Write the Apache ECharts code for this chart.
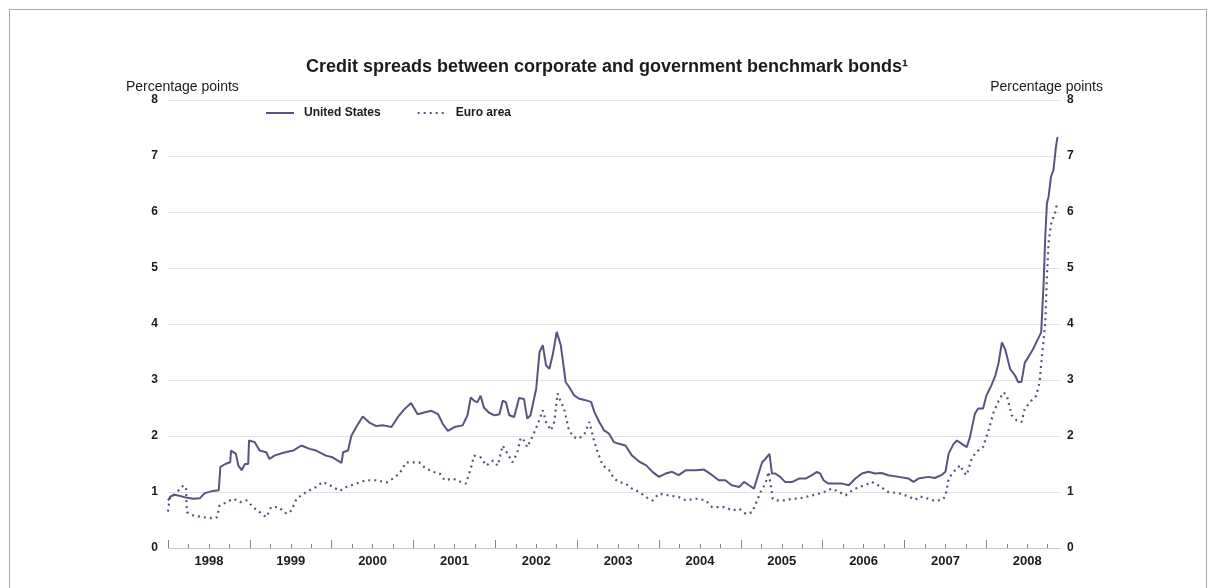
<!DOCTYPE html>
<html lang="en">
<head>
  <meta charset="utf-8" />
  <script src="https://cdn.jsdelivr.net/npm/echarts@6/dist/echarts.min.js"></script>
</head>
<body style="margin:0; background:#fff;">
  <div style="position:absolute; left:9px; top:9px; width:1196px; height:620px; border:1px solid #a8a8a8;"></div>
  <div id="container" style="position:absolute; left:0; top:0; width:1214px; height:588px;"></div>
  <script type="text/javascript">
    // tick labels
    var years = [1998, 1999, 2000, 2001, 2002, 2003, 2004, 2005, 2006, 2007, 2008];

    // United States (decimal year, percentage points)
    var usT = [1998.00, 1998.03, 1998.08, 1998.15, 1998.22, 1998.31, 1998.39, 1998.45, 1998.55, 1998.62,
      1998.64, 1998.70, 1998.76, 1998.77, 1998.83, 1998.86, 1998.90, 1998.94, 1998.98, 1998.99,
      1999.06, 1999.12, 1999.20, 1999.24, 1999.30, 1999.41, 1999.53, 1999.63, 1999.73, 1999.81,
      1999.93, 2000.01, 2000.12, 2000.14, 2000.20, 2000.24, 2000.30, 2000.38, 2000.46, 2000.54,
      2000.63, 2000.73, 2000.81, 2000.89, 2000.97, 2001.05, 2001.13, 2001.22, 2001.30, 2001.36,
      2001.42, 2001.50, 2001.60, 2001.66, 2001.70, 2001.74, 2001.78, 2001.82, 2001.86, 2001.92,
      2001.99, 2002.05, 2002.09, 2002.13, 2002.17, 2002.23, 2002.29, 2002.35, 2002.39, 2002.43,
      2002.50, 2002.54, 2002.58, 2002.62, 2002.66, 2002.70, 2002.75, 2002.80, 2002.86, 2002.90,
      2002.96, 2003.02, 2003.10, 2003.17, 2003.21, 2003.27, 2003.33, 2003.39, 2003.45, 2003.51,
      2003.59, 2003.67, 2003.76, 2003.84, 2003.92, 2004.00, 2004.08, 2004.16, 2004.24, 2004.33,
      2004.45, 2004.55, 2004.65, 2004.73, 2004.81, 2004.89, 2004.98, 2005.04, 2005.10, 2005.16,
      2005.21, 2005.26, 2005.30, 2005.35, 2005.38, 2005.42, 2005.48, 2005.54, 2005.63, 2005.71,
      2005.79, 2005.87, 2005.93, 2005.97, 2006.01, 2006.07, 2006.15, 2006.24, 2006.32, 2006.40,
      2006.48, 2006.56, 2006.64, 2006.72, 2006.80, 2006.93, 2007.05, 2007.11, 2007.17, 2007.29,
      2007.37, 2007.45, 2007.50, 2007.54, 2007.60, 2007.64, 2007.70, 2007.76, 2007.80, 2007.86,
      2007.90, 2007.96, 2008.00, 2008.06, 2008.11, 2008.15, 2008.19, 2008.23, 2008.29, 2008.35,
      2008.39, 2008.43, 2008.47, 2008.51, 2008.57, 2008.63, 2008.67, 2008.68, 2008.70, 2008.72,
      2008.74, 2008.76, 2008.79, 2008.82, 2008.84, 2008.85, 2008.87];
    var usV = [0.85, 0.92, 0.95, 0.93, 0.90, 0.88, 0.89, 0.98, 1.02, 1.03,
      1.45, 1.50, 1.53, 1.74, 1.68, 1.47, 1.39, 1.50, 1.50, 1.92,
      1.89, 1.74, 1.71, 1.59, 1.65, 1.70, 1.74, 1.83, 1.77, 1.74,
      1.65, 1.62, 1.52, 1.71, 1.74, 2.00, 2.16, 2.35, 2.24, 2.18,
      2.19, 2.16, 2.34, 2.48, 2.59, 2.39, 2.42, 2.45, 2.39, 2.21,
      2.09, 2.16, 2.19, 2.37, 2.69, 2.63, 2.60, 2.72, 2.51, 2.42,
      2.37, 2.39, 2.63, 2.60, 2.37, 2.34, 2.68, 2.66, 2.31, 2.37,
      2.85, 3.50, 3.62, 3.26, 3.20, 3.44, 3.86, 3.62, 2.96, 2.88,
      2.73, 2.67, 2.64, 2.61, 2.43, 2.25, 2.10, 2.04, 1.89, 1.86,
      1.83, 1.65, 1.54, 1.48, 1.36, 1.27, 1.33, 1.36, 1.30, 1.39,
      1.39, 1.40, 1.30, 1.21, 1.21, 1.12, 1.09, 1.18, 1.12, 1.06,
      1.30, 1.53, 1.59, 1.68, 1.33, 1.33, 1.27, 1.18, 1.18, 1.24,
      1.24, 1.30, 1.36, 1.33, 1.21, 1.15, 1.15, 1.15, 1.12, 1.24,
      1.33, 1.36, 1.33, 1.34, 1.30, 1.27, 1.24, 1.18, 1.24, 1.27,
      1.25, 1.30, 1.36, 1.69, 1.86, 1.92, 1.86, 1.80, 1.98, 2.40,
      2.49, 2.49, 2.72, 2.90, 3.08, 3.31, 3.67, 3.55, 3.20, 3.08,
      2.96, 2.97, 3.31, 3.40, 3.55, 3.73, 3.85, 4.14, 4.73, 5.56,
      6.15, 6.27, 6.63, 6.75, 6.78, 7.16, 7.34];

    // Euro area
    var euT = [1998.00, 1998.02, 1998.07, 1998.13, 1998.19, 1998.22, 1998.23, 1998.31, 1998.43, 1998.55,
      1998.60, 1998.63, 1998.72, 1998.80, 1998.88, 1998.96, 1999.04, 1999.12, 1999.20, 1999.26,
      1999.35, 1999.45, 1999.51, 1999.57, 1999.69, 1999.81, 1999.89, 1999.98, 2000.10, 2000.18,
      2000.30, 2000.42, 2000.54, 2000.67, 2000.75, 2000.83, 2000.91, 2001.07, 2001.15, 2001.24,
      2001.32, 2001.38, 2001.48, 2001.58, 2001.64, 2001.70, 2001.74, 2001.82, 2001.89, 2001.97,
      2002.03, 2002.09, 2002.15, 2002.21, 2002.27, 2002.31, 2002.35, 2002.39, 2002.46, 2002.52,
      2002.58, 2002.62, 2002.68, 2002.72, 2002.76, 2002.80, 2002.84, 2002.90, 2002.96, 2003.02,
      2003.09, 2003.15, 2003.20, 2003.25, 2003.31, 2003.39, 2003.45, 2003.51, 2003.59, 2003.67,
      2003.76, 2003.84, 2003.92, 2004.00, 2004.12, 2004.24, 2004.33, 2004.45, 2004.57, 2004.65,
      2004.73, 2004.81, 2004.89, 2004.98, 2005.06, 2005.14, 2005.19, 2005.24, 2005.30, 2005.34,
      2005.39, 2005.44, 2005.54, 2005.63, 2005.71, 2005.79, 2005.87, 2005.95, 2006.03, 2006.11,
      2006.20, 2006.28, 2006.36, 2006.44, 2006.52, 2006.60, 2006.68, 2006.80, 2006.93, 2007.05,
      2007.13, 2007.19, 2007.27, 2007.37, 2007.46, 2007.50, 2007.54, 2007.60, 2007.68, 2007.72,
      2007.76, 2007.82, 2007.88, 2007.96, 2008.02, 2008.09, 2008.15, 2008.21, 2008.25, 2008.31,
      2008.37, 2008.43, 2008.47, 2008.55, 2008.61, 2008.65, 2008.68, 2008.72, 2008.74, 2008.76,
      2008.78, 2008.80, 2008.83, 2008.86];
    var euV = [0.65, 0.88, 0.94, 1.03, 1.12, 1.06, 0.64, 0.58, 0.55, 0.53,
      0.55, 0.76, 0.82, 0.88, 0.82, 0.85, 0.73, 0.64, 0.55, 0.73,
      0.73, 0.61, 0.67, 0.88, 1.00, 1.09, 1.18, 1.12, 1.02, 1.09,
      1.15, 1.21, 1.21, 1.17, 1.24, 1.33, 1.53, 1.53, 1.42, 1.36,
      1.33, 1.21, 1.24, 1.18, 1.15, 1.42, 1.65, 1.62, 1.47, 1.56,
      1.47, 1.83, 1.68, 1.53, 1.71, 1.97, 1.92, 1.80, 2.01, 2.22,
      2.46, 2.25, 2.10, 2.25, 2.76, 2.61, 2.49, 2.10, 1.98, 1.95,
      2.04, 2.25, 1.95, 1.71, 1.48, 1.39, 1.24, 1.18, 1.15, 1.06,
      1.00, 0.91, 0.85, 0.97, 0.94, 0.91, 0.85, 0.88, 0.85, 0.73,
      0.73, 0.73, 0.67, 0.70, 0.61, 0.64, 0.82, 1.00, 1.15, 1.36,
      0.88, 0.85, 0.85, 0.88, 0.88, 0.91, 0.94, 0.97, 1.01, 1.06,
      1.00, 0.94, 1.03, 1.09, 1.12, 1.18, 1.12, 1.00, 0.98, 0.92,
      0.86, 0.92, 0.89, 0.84, 0.86, 0.92, 1.24, 1.36, 1.48, 1.36,
      1.30, 1.60, 1.72, 1.80, 2.07, 2.43, 2.63, 2.78, 2.72, 2.37,
      2.28, 2.25, 2.49, 2.63, 2.72, 2.96, 3.43, 4.02, 4.85, 5.44,
      5.68, 5.86, 5.92, 6.12];

    var zip = function (t, v) { return t.map(function (x, i) { return [x, v[i]]; }); };
    var quarterTicks = [];
    years.forEach(function (y) { quarterTicks.push(y + 0.25, y + 0.5, y + 0.75); });
    var midYears = years.map(function (y) { return y + 0.5; });

    var font = "'Liberation Sans', Arial, sans-serif";
    var ink = '#1b1b1b';
    var lineColor = '#57547f';

    var myChart = echarts.init(document.getElementById('container'), null, { renderer: 'canvas' });

    var option = {
      animation: false,
      title: [
        {
          text: 'Credit spreads between corporate and government benchmark bonds\u00b9',
          left: 'center', top: 53,
          textStyle: { fontFamily: font, fontSize: 18, fontWeight: 'bold', color: ink }
        },
        {
          text: 'Percentage points', left: 121, top: 75,
          textStyle: { fontFamily: font, fontSize: 14, fontWeight: 'normal', color: ink }
        },
        {
          text: 'Percentage points', right: 106, top: 75,
          textStyle: { fontFamily: font, fontSize: 14, fontWeight: 'normal', color: ink }
        }
      ],
      legend: {
        left: 260, top: 102,
        itemWidth: 28, itemHeight: 10, itemGap: 36,
        itemStyle: { opacity: 0 },
        textStyle: { fontFamily: font, fontSize: 12, fontWeight: 'bold', color: ink, padding: [0, 0, 0, 5] },
        data: ['United States', 'Euro area']
      },
      grid: { left: 168, right: 154, top: 100, bottom: 40 },
      xAxis: [
        {
          type: 'value', min: 1998, max: 2008.9, position: 'bottom',
          axisLine: { show: true, lineStyle: { color: '#c4c4c4', width: 1 } },
          axisTick: { show: true, inside: true, length: 8, customValues: years, lineStyle: { color: '#888' } },
          axisLabel: { show: false },
          splitLine: { show: false }
        },
        {
          type: 'value', min: 1998, max: 2008.9, position: 'bottom', offset: 0,
          axisLine: { show: false },
          axisTick: { show: true, inside: true, length: 4, customValues: quarterTicks, lineStyle: { color: '#888' } },
          axisLabel: {
            customValues: midYears, margin: 7,
            formatter: function (v) { return String(Math.floor(v)); },
            fontFamily: font, fontSize: 13, fontWeight: 'bold', color: ink
          },
          splitLine: { show: false }
        }
      ],
      yAxis: [
        {
          type: 'value', min: 0, max: 8, interval: 1, position: 'left',
          axisLine: { show: false }, axisTick: { show: false },
          axisLabel: { margin: 10, fontFamily: font, fontSize: 12, fontWeight: 'bold', color: ink },
          splitLine: { show: true, lineStyle: { color: '#e2e2e2', width: 1 } }
        },
        {
          type: 'value', min: 0, max: 8, interval: 1, position: 'right',
          axisLine: { show: false }, axisTick: { show: false },
          axisLabel: { margin: 7, fontFamily: font, fontSize: 12, fontWeight: 'bold', color: ink },
          splitLine: { show: false }
        }
      ],
      series: [
        {
          name: 'United States', type: 'line', symbol: 'none', showSymbol: false,
          xAxisIndex: 0, yAxisIndex: 0,
          itemStyle: { color: lineColor },
          lineStyle: { color: lineColor, width: 2 },
          data: zip(usT, usV)
        },
        {
          name: 'Euro area', type: 'line', symbol: 'none', showSymbol: false,
          xAxisIndex: 0, yAxisIndex: 0,
          itemStyle: { color: lineColor },
          lineStyle: { color: lineColor, width: 2.2, type: [2, 4] },
          data: zip(euT, euV)
        }
      ]
    };

    myChart.setOption(option);
  </script>
</body>
</html>
